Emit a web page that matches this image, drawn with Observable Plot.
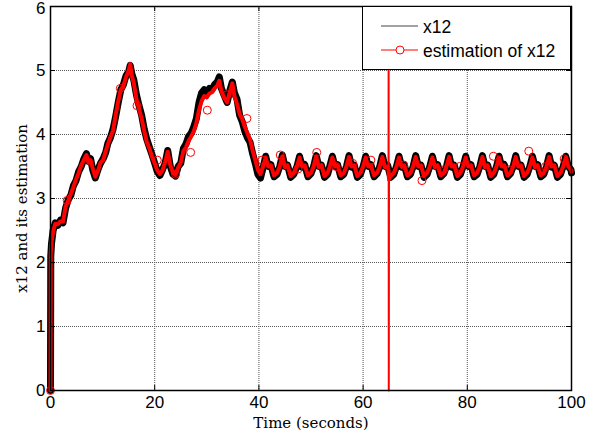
<!DOCTYPE html>
<html><head><meta charset="utf-8">
<script src="https://cdn.jsdelivr.net/npm/d3@7"></script>
<script src="https://cdn.jsdelivr.net/npm/@observablehq/plot@0.6"></script>
<style>
body{margin:0;background:#fff;}
#wrap{position:relative;width:607px;height:442px;}
#legend{position:absolute;left:362px;top:6px;width:209px;height:64px;background:#fff;border:1px solid #000;box-sizing:border-box;}
</style></head><body>
<div id="wrap"></div>
<script>
const xTicks = [0, 20, 40, 60, 80, 100];
const yTicks = [0, 1, 2, 3, 4, 5, 6];
const xLabel = "Time (seconds)";
const yLabel = "x12 and its estimation";
const seriesNames = ["x12", "estimation of x12"];

// x12 (black) : [time, value]
const x12 = [
[0,0],[0.05,2.1],[0.2,2.3],[0.5,2.5],[0.9,2.62],[1.4,2.58],[1.9,2.66],[2.4,2.62],[2.9,2.85],[3.4,2.98],
[3.9,3.05],[4.4,3.2],[4.9,3.28],[5.4,3.42],[5.9,3.5],[6.4,3.62],[6.9,3.7],[7.3,3.58],[7.7,3.62],[8.1,3.45],
[8.6,3.32],[9.1,3.45],[9.6,3.55],[10.1,3.62],[10.6,3.72],[11.0,3.86],[11.5,3.95],[12.0,4.08],[12.5,4.28],[13.0,4.5],
[13.5,4.7],[14.0,4.78],[14.5,4.92],[15.0,4.98],[15.3,5.08],[15.6,4.95],[16.0,4.85],[16.5,4.62],[17.0,4.45],[17.5,4.3],
[18.0,4.08],[18.5,3.92],[19.0,3.8],[19.5,3.68],[20.0,3.55],[20.5,3.42],[21.0,3.36],[21.5,3.45],[22.0,3.55],[22.5,3.75],
[23.0,3.5],[23.5,3.38],[24.0,3.35],[24.5,3.5],[25.0,3.55],[25.5,3.78],[26.0,3.85],[26.5,3.97],[27.0,4.02],[27.5,4.12],
[28.0,4.25],[28.5,4.5],[29.0,4.65],[29.5,4.7],[30.0,4.65],[30.5,4.72],[31.0,4.7],[31.5,4.78],[32.0,4.82],[32.4,4.9],
[32.8,4.72],[33.3,4.62],[33.9,4.5],[34.4,4.68],[34.9,4.82],[35.3,4.65],[35.8,4.55],[36.3,4.3],[36.8,4.2],[37.3,4.05],
[37.8,3.95],[38.3,3.88],[38.8,3.7],[39.3,3.55],[39.8,3.38],[40.3,3.32],[40.8,3.48],
[41.3,3.66],[41.8,3.5],[42.3,3.53],[42.9,3.34],[43.5,3.38],[44.0,3.5],
[44.5,3.68],[45.0,3.5],[45.5,3.52],[46.1,3.33],[46.7,3.38],[47.3,3.5],
[47.8,3.66],[48.3,3.49],[48.8,3.53],[49.4,3.34],[50.0,3.39],[50.5,3.5],
[51.0,3.67],[51.5,3.5],[52.0,3.52],[52.6,3.33],[53.2,3.38],[53.6,3.5],
[54.1,3.66],[54.6,3.5],[55.1,3.53],[55.7,3.34],[56.3,3.38],[56.8,3.5],
[57.3,3.67],[57.8,3.49],[58.3,3.52],[58.9,3.33],[59.5,3.38],[60.0,3.5],
[60.5,3.66],[61.0,3.5],[61.5,3.53],[62.1,3.34],[62.7,3.39],[63.2,3.5],
[63.7,3.67],[64.2,3.5],[64.7,3.52],[65.3,3.33],[65.9,3.38],[66.4,3.5],
[66.9,3.66],[67.4,3.49],[67.9,3.53],[68.5,3.34],[69.1,3.38],[69.6,3.5],
[70.1,3.67],[70.6,3.5],[71.1,3.52],[71.7,3.33],[72.3,3.38],[72.8,3.5],
[73.3,3.66],[73.8,3.5],[74.3,3.53],[74.9,3.34],[75.5,3.39],[76.0,3.5],
[76.5,3.67],[77.0,3.49],[77.5,3.52],[78.1,3.33],[78.7,3.38],[79.2,3.5],
[79.7,3.66],[80.2,3.5],[80.7,3.53],[81.3,3.34],[81.9,3.38],[82.4,3.5],
[82.9,3.67],[83.4,3.5],[83.9,3.52],[84.5,3.33],[85.1,3.38],[85.6,3.5],
[86.1,3.66],[86.6,3.49],[87.1,3.53],[87.7,3.34],[88.3,3.39],[88.8,3.5],
[89.3,3.67],[89.8,3.5],[90.3,3.52],[90.9,3.33],[91.5,3.38],[92.0,3.5],
[92.5,3.66],[93.0,3.5],[93.5,3.53],[94.1,3.34],[94.7,3.38],[95.2,3.5],
[95.7,3.67],[96.2,3.49],[96.7,3.52],[97.3,3.33],[97.9,3.38],[98.4,3.5],
[98.9,3.66],[99.4,3.5],[99.9,3.45],[100,3.4]
];

// estimation of x12 (red) : [time, value]
const x12Est = [
[0,0],[0.05,2.15],[0.2,2.32],[0.5,2.48],[0.9,2.6],[1.4,2.6],[1.9,2.64],[2.4,2.64],[2.9,2.87],[3.4,2.97],
[3.9,3.07],[4.4,3.18],[4.9,3.3],[5.4,3.4],[5.9,3.52],[6.4,3.6],[6.9,3.68],[7.3,3.56],[7.7,3.6],[8.1,3.47],
[8.6,3.34],[9.1,3.43],[9.6,3.56],[10.1,3.6],[10.6,3.74],[11.0,3.84],[11.5,3.96],[12.0,4.06],[12.5,4.3],[13.0,4.52],
[13.5,4.7],[14.0,4.76],[14.5,4.9],[15.0,5.0],[15.3,5.1],[15.6,4.92],[16.0,4.8],[16.5,4.55],[17.0,4.4],[17.5,4.25],
[18.0,4.05],[18.5,3.88],[19.0,3.78],[19.5,3.65],[20.0,3.55],[20.5,3.44],[21.0,3.38],[21.5,3.44],[22.0,3.57],[22.5,3.73],
[23.0,3.52],[23.5,3.4],[24.0,3.37],[24.5,3.48],[25.0,3.56],[25.5,3.74],[26.0,3.8],[26.5,3.9],[27.0,3.97],[27.5,4.05],
[28.0,4.18],[28.5,4.38],[29.0,4.52],[29.5,4.6],[30.0,4.58],[30.5,4.64],[31.0,4.66],[31.5,4.72],[32.0,4.76],[32.4,4.84],
[32.8,4.68],[33.3,4.58],[33.9,4.5],[34.4,4.66],[34.9,4.8],[35.3,4.6],[35.8,4.48],[36.3,4.32],[36.8,4.24],[37.3,4.12],
[37.8,4.02],[38.3,3.92],[38.8,3.75],[39.3,3.6],[39.8,3.45],[40.3,3.38],[40.8,3.5],
[41.3,3.64],[41.8,3.5],[42.3,3.52],[42.9,3.36],[43.5,3.4],[44.0,3.5],
[44.5,3.66],[45.0,3.49],[45.5,3.52],[46.1,3.35],[46.7,3.4],[47.3,3.5],
[47.8,3.64],[48.3,3.5],[48.8,3.52],[49.4,3.36],[50.0,3.4],[50.5,3.5],
[51.0,3.66],[51.5,3.49],[52.0,3.52],[52.6,3.35],[53.2,3.4],[53.6,3.5],
[54.1,3.64],[54.6,3.5],[55.1,3.52],[55.7,3.36],[56.3,3.4],[56.8,3.5],
[57.3,3.65],[57.8,3.5],[58.3,3.52],[58.9,3.35],[59.5,3.4],[60.0,3.5],
[60.5,3.64],[61.0,3.5],[61.5,3.52],[62.1,3.36],[62.7,3.4],[63.2,3.5],
[63.7,3.65],[64.2,3.49],[64.7,3.5],[64.88,3.45],[64.9,5.07],[64.93,0],[64.97,3.3],[65.3,3.35],[65.9,3.4],[66.4,3.5],
[66.9,3.64],[67.4,3.5],[67.9,3.52],[68.5,3.36],[69.1,3.4],[69.6,3.5],
[70.1,3.65],[70.6,3.5],[71.1,3.52],[71.7,3.35],[72.3,3.4],[72.8,3.5],
[73.3,3.64],[73.8,3.49],[74.3,3.52],[74.9,3.36],[75.5,3.4],[76.0,3.5],
[76.5,3.65],[77.0,3.5],[77.5,3.52],[78.1,3.35],[78.7,3.4],[79.2,3.5],
[79.7,3.64],[80.2,3.5],[80.7,3.52],[81.3,3.36],[81.9,3.4],[82.4,3.5],
[82.9,3.65],[83.4,3.49],[83.9,3.52],[84.5,3.35],[85.1,3.4],[85.6,3.5],
[86.1,3.64],[86.6,3.5],[87.1,3.52],[87.7,3.36],[88.3,3.4],[88.8,3.5],
[89.3,3.65],[89.8,3.5],[90.3,3.52],[90.9,3.35],[91.5,3.4],[92.0,3.5],
[92.5,3.64],[93.0,3.49],[93.5,3.52],[94.1,3.36],[94.7,3.4],[95.2,3.5],
[95.7,3.65],[96.2,3.5],[96.7,3.52],[97.3,3.35],[97.9,3.4],[98.4,3.5],
[98.9,3.64],[99.4,3.5],[99.9,3.45],[100,3.42]
];

// circle markers on the estimation
const estMarkers = [
[0,0],[3.2,2.97],[13.4,4.72],[16.6,4.45],[20.5,3.6],[24.0,3.38],[26.9,3.72],[30.1,4.38],[33.9,4.62],[37.7,4.25],
[40.6,3.6],[44.1,3.68],[47.5,3.46],[51.1,3.72],[54.8,3.5],[58.0,3.55],[61.5,3.6],[67.8,3.52],[71.3,3.28],[75.5,3.45],
[78.5,3.5],[85.0,3.66],[88.0,3.45],[91.8,3.74],[95.0,3.5],[98.6,3.62]
];

// the brief spike of the estimation (drawn thinner, like a single-sample glitch)
const spikeStart = 64.88, spikeEnd = 64.97;
const inSpike = d => d[0] >= spikeStart && d[0] <= spikeEnd;
const inSpikeInner = d => d[0] > spikeStart && d[0] < spikeEnd;

const sans = "'Liberation Sans', Arial, sans-serif";
const serif = "'DejaVu Serif', serif";
const yMax = d3.max(yTicks);

const plot = Plot.plot({
  width: 607, height: 442,
  marginLeft: 50, marginRight: 36, marginTop: 6, marginBottom: 52,
  x: {domain: [0, 100]},
  y: {domain: [0, 6]},
  style: {fontFamily: sans, fontSize: "17px", background: "#fff", color: "#000"},
  marks: [
    Plot.ruleX(xTicks, {stroke: "#555", strokeWidth: 1, strokeDasharray: "1,1"}),
    Plot.ruleY(yTicks, {stroke: "#555", strokeWidth: 1, strokeDasharray: "1,1"}),
    Plot.line(x12, {x: d => d[0], y: d => d[1], stroke: "#000", strokeWidth: 7}),
    Plot.line(x12Est.filter(d => !inSpikeInner(d)), {x: d => d[0], y: d => d[1], stroke: "#f00", strokeWidth: 4}),
    Plot.line(x12Est.filter(inSpike), {x: d => d[0], y: d => d[1], stroke: "#f00", strokeWidth: 2}),
    Plot.dot(estMarkers, {x: d => d[0], y: d => d[1], r: 4, stroke: "#f00", fill: "none", strokeWidth: 1}),
    Plot.ruleX(xTicks, {stroke: "#000", insetTop: 379}),
    Plot.ruleX(xTicks, {stroke: "#000", insetBottom: 379}),
    Plot.ruleY(yTicks, {stroke: "#000", insetRight: 516}),
    Plot.ruleY(yTicks, {stroke: "#000", insetLeft: 516}),
    Plot.frame({stroke: "#000", strokeWidth: 1.5}),
    Plot.axisX(xTicks, {tickSize: 0, tickPadding: 5, label: null, fontSize: 17, tickFormat: d3.format("d")}),
    Plot.axisY(yTicks.filter(v => v !== yMax), {tickSize: 0, tickPadding: 5, label: null, fontSize: 17, tickFormat: d3.format("d")}),
    Plot.axisY([yMax], {tickSize: 0, tickPadding: 5, label: null, fontSize: 17, tickFormat: d3.format("d"), dy: 2}),
    Plot.text([xLabel], {frameAnchor: "bottom", dy: 37, text: d => d, fontFamily: serif, fontSize: 15}),
    Plot.text([yLabel], {frameAnchor: "left", dx: -28, dy: 10, rotate: -90, textAnchor: "middle", text: d => d, fontFamily: serif, fontSize: 15})
  ]
});
const wrap = document.getElementById("wrap");
wrap.appendChild(plot);

// legend
const leg = document.createElement("div");
leg.id = "legend";
const ns = "http://www.w3.org/2000/svg";
const ls = document.createElementNS(ns, "svg");
ls.setAttribute("width", 207); ls.setAttribute("height", 62);
ls.innerHTML =
  `<line x1="18" x2="55" y1="19" y2="19" stroke="#444" stroke-width="1"/>` +
  `<text x="60" y="26" font-family="${sans}" font-size="17.5">${seriesNames[0]}</text>` +
  `<line x1="18" x2="55" y1="43" y2="43" stroke="#f00" stroke-width="1"/>` +
  `<circle cx="37" cy="43" r="4" fill="#fff" stroke="#f00"/>` +
  `<text x="60" y="50" font-family="${sans}" font-size="17.5">${seriesNames[1]}</text>`;
leg.appendChild(ls);
wrap.appendChild(leg);
</script>
</body></html>
